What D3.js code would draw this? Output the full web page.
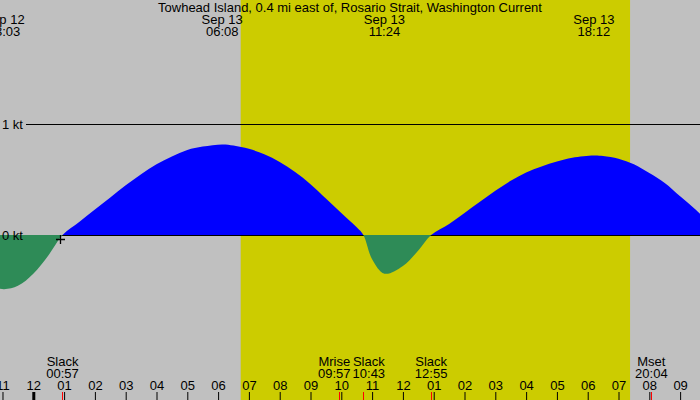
<!DOCTYPE html>
<html><head><meta charset="utf-8">
<script src="https://cdn.jsdelivr.net/npm/d3@7"></script>
<style>
html,body{margin:0;padding:0;background:#c0c0c0;overflow:hidden;}
svg{display:block;}
text{font-family:"Liberation Sans",Arial,sans-serif;font-size:13px;fill:#000;}
</style>
</head><body>
<svg id="chart" width="700" height="400"></svg>
<script>
// ---------- data ----------
const title = "Towhead Island, 0.4 mi east of, Rosario Strait, Washington Current";
const viewStart = "2024-09-12 22:55:08";
const viewEnd = "2024-09-13 21:38:44";
const daylight = ["2024-09-13 06:44:00", "2024-09-13 19:22:30"];

const sampleTimes = [
  "2024-09-12 22:30","2024-09-12 23:03","2024-09-12 23:30","2024-09-13 00:00","2024-09-13 00:30",
  "2024-09-13 00:57","2024-09-13 01:30","2024-09-13 02:00","2024-09-13 02:30","2024-09-13 03:00",
  "2024-09-13 03:30","2024-09-13 04:00","2024-09-13 04:30","2024-09-13 05:00","2024-09-13 05:30",
  "2024-09-13 06:08","2024-09-13 06:30","2024-09-13 07:00","2024-09-13 07:30","2024-09-13 08:00",
  "2024-09-13 08:30","2024-09-13 09:00","2024-09-13 09:30","2024-09-13 10:00","2024-09-13 10:30",
  "2024-09-13 10:43","2024-09-13 11:00","2024-09-13 11:24","2024-09-13 12:00","2024-09-13 12:30",
  "2024-09-13 12:55","2024-09-13 13:30","2024-09-13 14:00","2024-09-13 14:30","2024-09-13 15:00",
  "2024-09-13 15:30","2024-09-13 16:00","2024-09-13 16:30","2024-09-13 17:00","2024-09-13 17:30",
  "2024-09-13 18:12","2024-09-13 18:30","2024-09-13 19:00","2024-09-13 19:30","2024-09-13 20:00",
  "2024-09-13 20:30","2024-09-13 21:00","2024-09-13 21:30","2024-09-13 22:00"
];
const sampleKnots = [
  -0.46,-0.49,-0.46,-0.35,-0.18,
  0.00,0.12,0.23,0.34,0.45,
  0.55,0.64,0.71,0.77,0.80,
  0.82,0.81,0.78,0.73,0.66,
  0.57,0.46,0.33,0.20,0.07,
  0.00,-0.22,-0.35,-0.28,-0.14,
  0.00,0.10,0.20,0.30,0.40,
  0.49,0.565,0.62,0.665,0.70,
  0.72,0.715,0.69,0.64,0.56,
  0.47,0.35,0.23,0.10
];

const extremeTimes = ["2024-09-12 23:03","2024-09-13 06:08","2024-09-13 11:24","2024-09-13 18:12"];

const eventNames = ["Slack","Mrise","Slack","Slack","Mset"];
const eventTimes = ["2024-09-13 00:57","2024-09-13 09:57","2024-09-13 10:43","2024-09-13 12:55","2024-09-13 20:04"];

const markerTime = "2024-09-13 00:52";

const knotTicks = [0, 1];
const knotLabels = ["0 kt", "1 kt"];

// ---------- chart ----------
const W = 700, H = 400;
const parseS = d3.timeParse("%Y-%m-%d %H:%M:%S");
const parseM = d3.timeParse("%Y-%m-%d %H:%M");
const fmtDay = d3.timeFormat("%b %d");
const fmtHM = d3.timeFormat("%H:%M");
const fmtHr = d3.timeFormat("%I");

const x = d3.scaleTime().domain([parseS(viewStart), parseS(viewEnd)]).range([0, W]);
const y = d3.scaleLinear().domain([0, 1]).range([235, 124.5]);

const svg = d3.select("#chart");

svg.append("rect").attr("x",0).attr("y",0).attr("width",W).attr("height",H).attr("fill","#c0c0c0");

const dx0 = x(parseS(daylight[0])), dx1 = x(parseS(daylight[1]));
svg.append("rect").attr("x",dx0).attr("y",0).attr("width",dx1-dx0).attr("height",H).attr("fill","#cccc00");

// knot lines
knotTicks.forEach((k,i)=>{
  const yy = Math.floor(y(k)) + 0.5;
  svg.append("line").attr("x1",26).attr("x2",W).attr("y1",yy).attr("y2",yy)
    .attr("stroke","#000").attr("stroke-width",1);
});

const data = sampleTimes.map((t,i)=>({t:parseM(t), v:sampleKnots[i]}));
const y0 = y(0);
const area = d3.area().x(d=>x(d.t)).y0(y0).y1(d=>y(d.v)).curve(d3.curveCatmullRom.alpha(0.5));

const defs = svg.append("defs");
defs.append("clipPath").attr("id","above").append("rect")
  .attr("x",0).attr("y",0).attr("width",W).attr("height",Math.floor(y0));
defs.append("clipPath").attr("id","below").append("rect")
  .attr("x",0).attr("y",Math.floor(y0)).attr("width",W).attr("height",H-Math.floor(y0));

svg.append("path").datum(data).attr("d",area).attr("fill","#0000ff").attr("clip-path","url(#above)");
svg.append("path").datum(data).attr("d",area).attr("fill","#2e8b57").attr("clip-path","url(#below)");

// knot labels
knotTicks.forEach((k,i)=>{
  svg.append("text").attr("x",2).attr("y",Math.floor(y(k))+5).text(knotLabels[i]);
});

// marker +
{
  const mx = Math.round(x(parseM(markerTime))) + 0.5, my = Math.floor(y0) + 4.5;
  svg.append("path").attr("d",`M${mx-4.5},${my}H${mx+4.5}M${mx},${my-4.5}V${my+4.5}`)
    .attr("stroke","#000").attr("stroke-width",1.3).attr("fill","none");
}

// title
svg.append("text").attr("x",W/2).attr("y",12).attr("text-anchor","middle").text(title);

// extreme labels
extremeTimes.forEach(t=>{
  const d = parseM(t), cx = x(d);
  svg.append("text").attr("x",cx).attr("y",24).attr("text-anchor","middle").text(fmtDay(d));
  svg.append("text").attr("x",cx).attr("y",36).attr("text-anchor","middle").text(fmtHM(d));
});

// hour axis
const axis = d3.axisTop(x).ticks(d3.timeHour.every(1)).tickSize(8).tickPadding(2).tickFormat(fmtHr);
const ax = svg.append("g").attr("transform",`translate(0,${H})`).call(axis);
ax.select(".domain").remove();
ax.selectAll(".tick line").attr("stroke","#000");
ax.selectAll(".tick text").attr("font-family",null).attr("font-size",null).attr("fill","#000");
ax.selectAll(".tick").filter(d=>d.getHours()===0).select("line").attr("stroke-width",3);

// event ticks and labels
const evs = eventTimes.map((t,i)=>({d:parseM(t), name:eventNames[i]}));
evs.forEach(e=>{
  const ex = Math.floor(x(e.d)) + 0.5;
  svg.append("line").attr("x1",ex).attr("x2",ex).attr("y1",H-8).attr("y2",H)
    .attr("stroke","#ff0000").attr("stroke-width",1);
});
const evG = evs.map(e=>{
  const g = svg.append("g");
  const t1 = g.append("text").attr("y",366).attr("text-anchor","middle").text(e.name);
  const t2 = g.append("text").attr("y",378).attr("text-anchor","middle").text(fmtHM(e.d));
  const w = Math.max(t1.node().getComputedTextLength(), t2.node().getComputedTextLength());
  return {g, cx:x(e.d), w};
});
for (let iter=0; iter<10; iter++){
  for (let i=1;i<evG.length;i++){
    const a = evG[i-1], b = evG[i];
    const over = (a.cx + a.w/2 + 2) - (b.cx - b.w/2);
    if (over > 0){ a.cx -= over/2; b.cx += over/2; }
  }
}
evG.forEach(o=>o.g.selectAll("text").attr("x",o.cx));
</script>
</body></html>
